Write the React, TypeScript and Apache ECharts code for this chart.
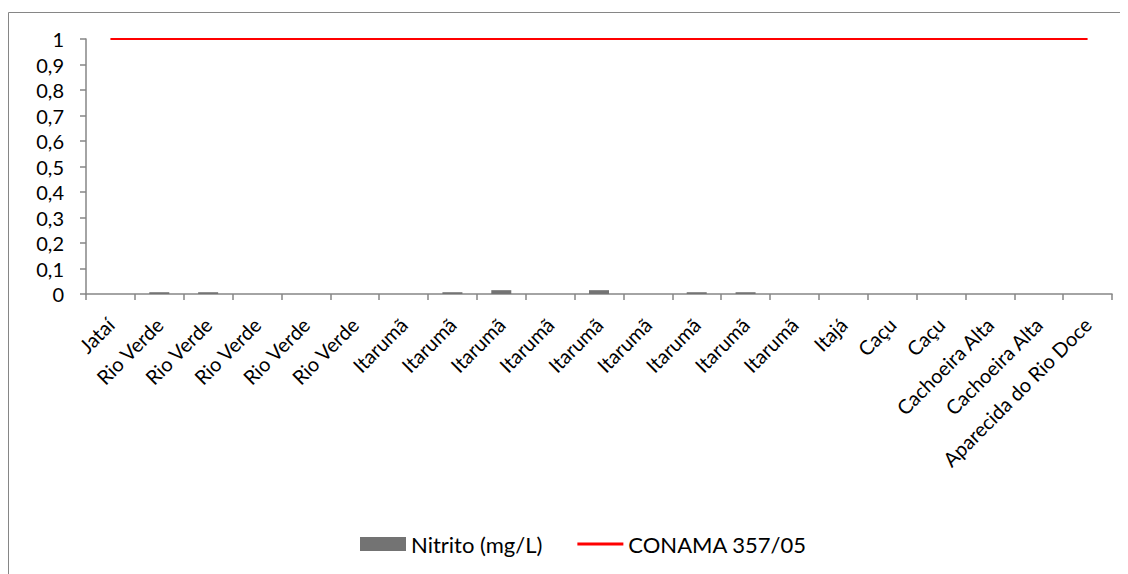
import React, { useEffect, useRef } from "react";
import * as echarts from "echarts";

const categories = [
  "Jataí", "Rio Verde", "Rio Verde", "Rio Verde", "Rio Verde", "Rio Verde",
  "Itarumã", "Itarumã", "Itarumã", "Itarumã", "Itarumã", "Itarumã", "Itarumã", "Itarumã", "Itarumã",
  "Itajá", "Caçu", "Caçu", "Cachoeira Alta", "Cachoeira Alta", "Aparecida do Rio Doce",
];
const nitrito = [0, 0.007, 0.007, 0, 0, 0, 0, 0.007, 0.015, 0, 0.015, 0, 0.007, 0.007, 0, 0, 0, 0, 0, 0, 0];
const conama = categories.map(() => 1);
const yTicks = [0, 0.1, 0.2, 0.3, 0.4, 0.5, 0.6, 0.7, 0.8, 0.9, 1];

export default function App() {
  const ref = useRef<HTMLDivElement>(null);
  useEffect(() => {
    const chart = echarts.init(ref.current!, null, { renderer: "svg" });
    const font = "Lato, 'Open Sans', sans-serif";
    chart.setOption({
      animation: false,
      textStyle: { fontFamily: font },
      graphic: [
        {
          type: "rect",
          shape: { x: 0.5, y: 4.5, width: 1140, height: 580 },
          style: { fill: "none", stroke: "#868686", lineWidth: 1 },
          silent: true,
        },
      ],
      grid: { left: 78, right: 16, top: 31, bottom: 280, containLabel: false },
      legend: {
        bottom: 14,
        left: 347,
        itemGap: 35,
        itemWidth: 46,
        itemHeight: 14,
        textStyle: { fontSize: 22, color: "#000", fontFamily: font },
        data: [
          { name: "Nitrito (mg/L)", icon: "rect" },
          { name: "CONAMA 357/05", icon: "path://M0,0 L100,0 L100,6 L0,6 Z", itemStyle: { color: "#ff0000" } },
        ],
      },
      xAxis: {
        type: "category",
        data: categories,
        axisLine: { lineStyle: { color: "#868686", width: 1.5 } },
        axisTick: { show: true, alignWithLabel: false, length: 6, lineStyle: { color: "#868686", width: 1.5 } },
        axisLabel: { rotate: 45, interval: 0, fontSize: 20, color: "#000", margin: 27, fontFamily: font },
        splitLine: { show: false },
      },
      yAxis: {
        type: "value",
        min: 0,
        max: 1,
        interval: 0.1,
        axisLine: { show: true, lineStyle: { color: "#868686", width: 1.5 } },
        axisTick: { show: true, length: 6, lineStyle: { color: "#868686", width: 1.5 } },
        splitLine: { show: false },
        axisLabel: {
          fontSize: 20,
          color: "#000",
          margin: 22,
          fontFamily: font,
          formatter: (v: number) => {
            const t = yTicks.find((x) => Math.abs(x - v) < 1e-9);
            const val = t !== undefined ? t : v;
            return String(Math.round(val * 10) / 10).replace(".", ",");
          },
        },
      },
      series: [
        {
          name: "Nitrito (mg/L)",
          type: "bar",
          data: nitrito,
          barWidth: 20,
          itemStyle: { color: "#737373" },
        },
        {
          name: "CONAMA 357/05",
          type: "line",
          data: conama,
          symbol: "none",
          lineStyle: { color: "#ff0000", width: 2 },
          itemStyle: { color: "#ff0000" },
        },
      ],
    });
    return () => chart.dispose();
  }, []);
  return <div ref={ref} style={{ width: 1120, height: 566 }} />;
}
